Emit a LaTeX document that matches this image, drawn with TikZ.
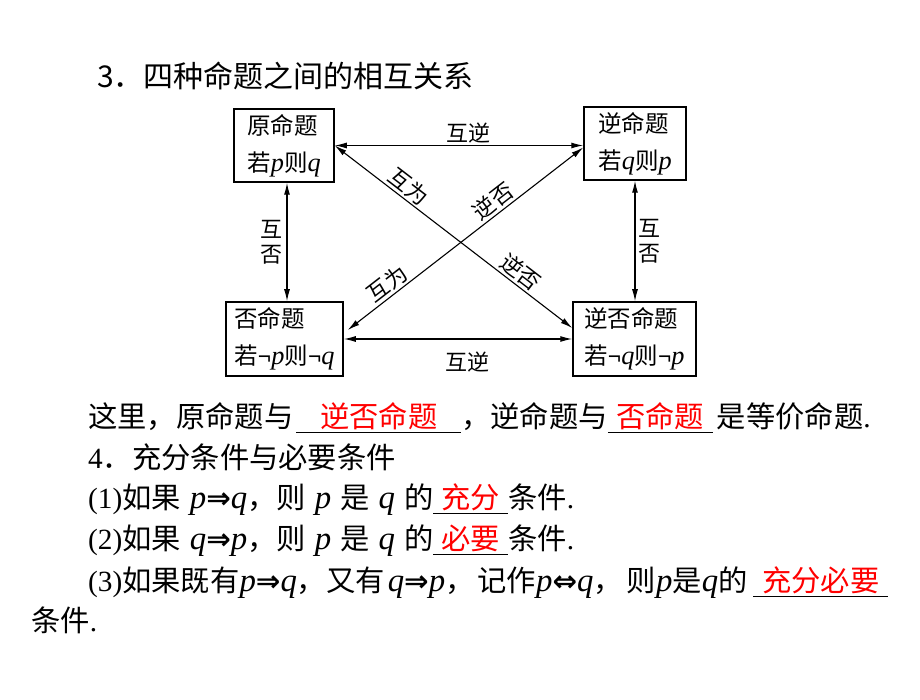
\documentclass[tikz,border=0pt]{standalone}
\usepackage{fontspec}
\usepackage{xcolor}
\usetikzlibrary{arrows.meta}
\setmainfont{Noto Sans CJK SC}
\newfontfamily\lat{Liberation Serif}
\newfontfamily\latit[Scale=1.12]{Liberation Serif}
\newfontfamily\sym{DejaVu Sans}
\newcommand\mi[1]{{\latit\itshape #1}}
\newcommand\no{{\lat\bfseries ¬}}
\newcommand\wsp{\hspace{9pt}}
\newcommand\fillin[2]{\rlap{\rule[-6pt]{#1pt}{1.2pt}}\makebox[#1pt]{\color{red}#2}}

\begin{document}
\begin{tikzpicture}[x=1pt,y=-1pt,
    box/.style={draw,line width=1.5pt,align=left,inner sep=0pt,
      font=\fontsize{23.5}{37}\selectfont},
    lbl/.style={font=\fontsize{22}{25}\selectfont,inner sep=2pt},
    txt/.style={anchor=base west,inner sep=0pt,font=\fontsize{29.3}{34}\selectfont},
    dbl/.style={{Latex[length=12pt,width=6pt]}-{Latex[length=12pt,width=6pt]},line width=1.1pt}]
  \useasboundingbox (0,0) rectangle (920,700);

  \node[txt,font=\fontsize{30}{36}\selectfont] (title) at (97,88) {3．四种命题之间的相互关系};

  \node[box,minimum width=100pt,minimum height=73pt] (yuan) at (284,145.5) {原命题\\若\mi{p}则\mi{q}};
  \node[box,minimum width=102pt,minimum height=73pt] (ni) at (635,143.5) {逆命题\\若\mi{q}则\mi{p}};
  \node[box,minimum width=117pt,minimum height=74pt] (fou) at (284.5,339) {否命题\\若\no\mi{p}则\no\mi{q}};
  \node[box,minimum width=123pt,minimum height=74pt] (nifou) at (634.5,339) {逆否命题\\若\no\mi{q}则\no\mi{p}};

  \draw[dbl] (yuan.east) -- (yuan.east -| ni.west)
     node[lbl,pos=0.54,above] {互逆};
  \draw[dbl] (fou.east) -- (nifou.west)
     node[lbl,pos=0.54,below=10pt] {互逆};
  \draw[dbl] ([xshift=3pt]yuan.south) -- ([xshift=3pt]yuan.south |- fou.north)
     node[lbl,midway,left=2pt,align=center] {互\\否};
  \draw[dbl] (ni.south) -- (ni.south |- nifou.north)
     node[lbl,midway,right=1pt,align=center] {互\\否};
  \draw[dbl] (yuan.east) -- ([yshift=11pt]nifou.west)
     node[lbl,pos=0.28,sloped,above] {互为}
     node[lbl,pos=0.75,sloped,above] {逆否};
  \draw[dbl] ([xshift=4pt,yshift=9pt]fou.east) -- ([yshift=-4pt]ni.west)
     node[lbl,pos=0.2,sloped,above] {互为}
     node[lbl,pos=0.65,sloped,above] {逆否};

  \node[txt] (line1) at (88,427) {这里，原命题与\hspace{3pt}\fillin{165}{逆否命题}，逆命题与\fillin{105}{否命题}\hspace{4pt}是等价命题{\lat .}};
  \node[txt] (line2) at (88,468) {{\lat 4}．充分条件与必要条件};
  \node[txt] (line3) at (88,508) {{\lat (1)}如果\wsp{}\mi{p}{\sym\bfseries ⇒}\mi{q}，则\wsp{}\mi{p}\wsp{}是\wsp{}\mi{q}\wsp{}的\fillin{75}{充分}条件{\lat .}};
  \node[txt] (line4) at (88,549) {{\lat (2)}如果\wsp{}\mi{q}{\sym\bfseries ⇒}\mi{p}，则\wsp{}\mi{p}\wsp{}是\wsp{}\mi{q}\wsp{}的\fillin{75}{必要}条件{\lat .}};
  \node[txt] (line5) at (88,591) {{\lat (3)}如果既有\mi{p}{\sym\bfseries ⇒}\mi{q}，又有\hspace{3pt}\mi{q}{\sym\bfseries ⇒}\mi{p}，\hspace{3pt}记作\mi{p}{\sym\bfseries ⇔}\mi{q}，\hspace{4pt}则\mi{p}是\mi{q}的\hspace{6pt}\fillin{135}{充分必要}};
  \node[txt] (line6) at (31,631) {条件{\lat .}};
\end{tikzpicture}
\end{document}
